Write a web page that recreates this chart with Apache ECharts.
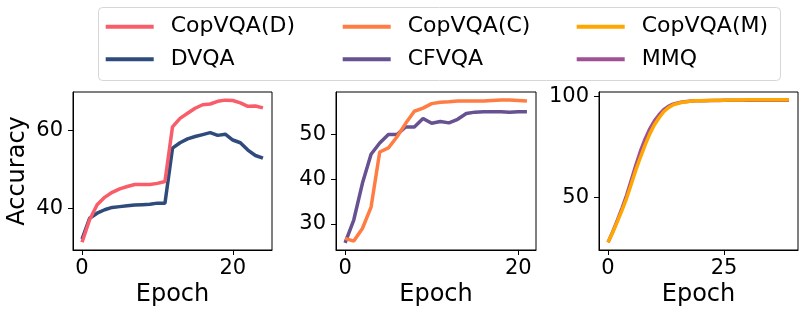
<!DOCTYPE html>
<html>
<head>
<meta charset="utf-8">
<script src="https://cdn.jsdelivr.net/npm/echarts@6/dist/echarts.min.js"></script>
<style>
html,body{margin:0;padding:0;background:#fff;}
#c{width:806px;height:317px;}
</style>
</head>
<body>
<div id="c"></div>
<script>
// ---- Panel 1 (epochs 0..24)
const epochs1 = [0,1,2,3,4,5,6,7,8,9,10,11,12,13,14,15,16,17,18,19,20,21,22,23,24];
const copD = [31.2,37.0,40.9,42.8,44.1,45.0,45.6,46.1,46.1,46.1,46.4,46.9,61.0,63.2,64.5,65.8,66.7,66.9,67.6,67.9,67.8,67.2,66.3,66.4,65.9];
const copDStd = [0.2,0.2,0.2,0.2,0.2,0.2,0.2,0.2,0.2,0.2,0.2,0.2,0.3,0.3,0.3,0.3,0.3,0.3,0.3,0.3,0.3,0.3,0.4,0.4,0.4];
const dvqa = [32.0,37.4,38.7,39.6,40.2,40.4,40.6,40.8,40.9,41.0,41.3,41.3,55.5,56.9,57.9,58.5,59.0,59.5,58.8,59.1,57.6,56.9,55.0,53.6,52.9];
const dvqaStd = [0.2,0.2,0.2,0.2,0.2,0.2,0.2,0.2,0.2,0.2,0.2,0.2,0.3,0.3,0.3,0.3,0.3,0.3,0.3,0.4,0.5,0.6,0.8,0.9,0.9];
// ---- Panel 2 (epochs 0..21)
const epochs2 = [0,1,2,3,4,5,6,7,8,9,10,11,12,13,14,15,16,17,18,19,20,21];
const copC = [26.8,26.2,29.0,33.8,46.1,47.0,49.5,52.5,55.2,55.9,56.9,57.2,57.3,57.5,57.5,57.5,57.5,57.6,57.7,57.7,57.6,57.5];
const cfvqa = [25.8,30.9,39.1,45.6,48.1,50.0,50.0,51.7,51.7,53.6,52.5,52.9,52.6,53.4,54.7,55.0,55.1,55.1,55.1,55.0,55.1,55.1];
// ---- Panel 3 (epochs 0..39)
const epochs3 = [0,1,2,3,4,5,6,7,8,9,10,11,12,13,14,15,16,17,18,19,20,21,22,23,24,25,26,27,28,29,30,31,32,33,34,35,36,37,38,39];
const copM = [27.6,32.5,37.9,43.5,49.5,56.5,63.6,70.0,76.0,81.5,86.0,89.5,92.5,94.5,95.9,96.6,97.2,97.5,97.8,97.9,98.0,98.1,98.1,98.2,98.2,98.2,98.3,98.3,98.3,98.3,98.4,98.4,98.4,98.4,98.4,98.5,98.5,98.5,98.5,98.4];
const mmq = [27.6,32.8,38.5,44.5,51.0,58.5,66.0,73.0,79.0,84.0,88.0,91.0,93.5,95.2,96.3,96.9,97.3,97.6,97.8,97.9,98.0,98.0,98.1,98.1,98.1,98.2,98.2,98.2,98.2,98.2,98.2,98.2,98.2,98.2,98.2,98.2,98.2,98.2,98.2,98.2];

// ---- ticks
const xTicks1 = [0,20], yTicks1 = [40,60];
const xTicks2 = [0,20], yTicks2 = [30,40,50];
const xTicks3 = [0,25], yTicks3 = [50,100];

const names = ['CopVQA(D)','CopVQA(C)','CopVQA(M)','DVQA','CFVQA','MMQ'];
const colors = {'CopVQA(D)':'#f95d6a','CopVQA(C)':'#ff7c43','CopVQA(M)':'#ffa600','DVQA':'#2f4b7c','CFVQA':'#665191','MMQ':'#a05195'};

const FONT = 'DejaVu Sans';
const pair = (xs, ys) => xs.map((x,i)=>[x, ys[i]]);

function xAxis(gi, min, max, ticks){
  return {type:'value', gridIndex:gi, min:min, max:max,
    name:'Epoch', nameLocation:'middle', nameGap:33,
    nameTextStyle:{fontFamily:FONT, fontSize:24, color:'#000'},
    splitLine:{show:false},
    axisLine:{show:true, onZero:false, lineStyle:{color:'#000', width:1}},
    axisTick:{show:true, length:5, lineStyle:{color:'#000'}, customValues:ticks},
    axisLabel:{fontFamily:FONT, fontSize:21, color:'#000', margin:8, customValues:ticks}};
}
function yAxis(gi, min, max, ticks, name){
  return {type:'value', gridIndex:gi, min:min, max:max,
    name:name||'', nameLocation:'middle', nameGap:43,
    nameTextStyle:{fontFamily:FONT, fontSize:24, color:'#000'},
    splitLine:{show:false},
    axisLine:{show:true, onZero:false, lineStyle:{color:'#000', width:1}},
    axisTick:{show:true, length:5, lineStyle:{color:'#000'}, customValues:ticks},
    axisLabel:{fontFamily:FONT, fontSize:21, color:'#000', margin:10, customValues:ticks}};
}
function line(name, gi, xs, ys, z){
  return {name:name, type:'line', xAxisIndex:gi, yAxisIndex:gi, data:pair(xs,ys),
    showSymbol:false, symbol:'none', z:z||2, color:colors[name],
    lineStyle:{width:3.5, color:colors[name]}, animation:false};
}
function band(name, gi, xs, ys, sd, key){
  const lo = ys.map((v,i)=>v-sd[i]);
  const w = sd.map(s=>2*s);
  return [
    {type:'line', xAxisIndex:gi, yAxisIndex:gi, stack:key, data:pair(xs,lo), showSymbol:false, symbol:'none',
     lineStyle:{opacity:0}, silent:true, z:1, animation:false},
    {type:'line', xAxisIndex:gi, yAxisIndex:gi, stack:key, data:pair(xs,w), showSymbol:false, symbol:'none',
     lineStyle:{opacity:0}, areaStyle:{color:colors[name], opacity:0.2}, silent:true, z:1, animation:false}
  ];
}

const legendPos = [
  ['CopVQA(D)',105.7,14.7],['DVQA',105.7,47.3],
  ['CopVQA(C)',342.7,14.7],['CFVQA',342.7,47.3],
  ['CopVQA(M)',576.7,14.7],['MMQ',576.7,47.3]
];
const legends = legendPos.map(([n,l,t])=>({
  data:[n], left:l, top:t, padding:0, itemWidth:48, itemHeight:4, icon:'rect',
  textStyle:{fontFamily:FONT, fontSize:22, color:'#000', padding:[0,0,0,12], lineHeight:24}
}));

const option = {
  backgroundColor:'#fff',
  animation:false,
  legend: legends,
  graphic:[{type:'rect', shape:{x:98.5, y:7.5, width:682, height:73, r:4},
    style:{fill:'rgba(255,255,255,0.8)', stroke:'#d6d6d6', lineWidth:1}, z:-1}],
  grid:[
    {left:73, top:92, width:199, height:158, show:true, borderColor:'#000', borderWidth:1, backgroundColor:'transparent'},
    {left:336, top:92, width:200, height:158, show:true, borderColor:'#000', borderWidth:1, backgroundColor:'transparent'},
    {left:599, top:92, width:199, height:158, show:true, borderColor:'#000', borderWidth:1, backgroundColor:'transparent'}
  ],
  xAxis:[xAxis(0,-1.2,25.2,xTicks1), xAxis(1,-1.05,22.05,xTicks2), xAxis(2,-1.95,40.95,xTicks3)],
  yAxis:[yAxis(0,29.2,70,yTicks1,'Accuracy'), yAxis(1,24.2,59.5,yTicks2), yAxis(2,23.8,102.3,yTicks3)],
  series:[
    ...band('DVQA',0,epochs1,dvqa,dvqaStd,'bd'),
    ...band('CopVQA(D)',0,epochs1,copD,copDStd,'bc'),
    line('DVQA',0,epochs1,dvqa,2),
    line('CopVQA(D)',0,epochs1,copD,3),
    line('CFVQA',1,epochs2,cfvqa,2),
    line('CopVQA(C)',1,epochs2,copC,3),
    line('MMQ',2,epochs3,mmq,2),
    line('CopVQA(M)',2,epochs3,copM,3)
  ]
};
const chart = echarts.init(document.getElementById('c'), null, {renderer:'canvas'});
chart.setOption(option);
</script>
</body>
</html>
